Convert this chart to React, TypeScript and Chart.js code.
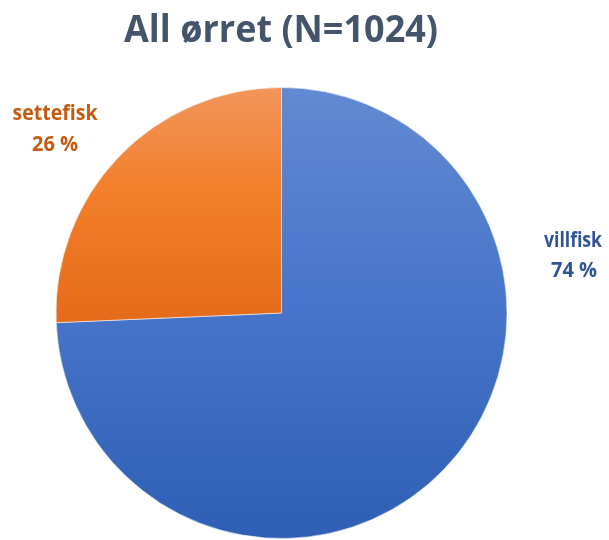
import React, { useEffect, useRef } from "react";
import { Chart, registerables } from "chart.js";

Chart.register(...registerables);

const title = "All ørret (N=1024)";
const categories = ["villfisk", "settefisk"];
const values = [761, 263];
const percentLabels = ["74 %", "26 %"];

const blueStops: [number, string][] = [
  [0, "#628ad3"],
  [0.5, "#4674c9"],
  [1, "#2e5fb4"],
];
const orangeStops: [number, string][] = [
  [0, "#f2955c"],
  [0.22, "#f2802c"],
  [0.5, "#e56c1b"],
  [1, "#d35f12"],
];
const labelColors = ["#2f5597", "#c55a11"];

export default function App() {
  const ref = useRef<HTMLCanvasElement | null>(null);

  useEffect(() => {
    const canvas = ref.current;
    if (!canvas) return;

    const grad = (chart: any, stops: [number, string][]) => {
      const area = chart.chartArea;
      if (!area) return stops[1][1];
      const g = chart.ctx.createLinearGradient(0, area.top, 0, area.bottom);
      stops.forEach(([o, c]) => g.addColorStop(o, c));
      return g;
    };

    const textPlugin = {
      id: "texts",
      afterDraw(chart: any) {
        const c = chart.ctx as CanvasRenderingContext2D;
        c.save();
        c.textAlign = "center";
        c.textBaseline = "alphabetic";
        c.fillStyle = "#44546a";
        c.font = "bold 38px 'Open Sans'";
        c.fillText(title, 281, 42, 314);

        c.font = "bold 22px 'Open Sans'";
        // villfisk (right)
        c.fillStyle = labelColors[0];
        c.fillText(categories[0], 573, 247, 58);
        c.fillText(percentLabels[0], 574, 277, 46);
        // settefisk (left)
        c.fillStyle = labelColors[1];
        c.fillText(categories[1], 55, 120, 85);
        c.fillText(percentLabels[1], 55, 151, 46);
        c.restore();
      },
    };

    const chart = new Chart(canvas, {
      type: "pie",
      data: {
        labels: categories,
        datasets: [
          {
            data: values,
            backgroundColor: (ctx: any) =>
              grad(ctx.chart, ctx.dataIndex === 0 ? blueStops : orangeStops),
            borderColor: "rgba(255,255,255,0.55)",
            borderWidth: 1,
          },
        ],
      },
      options: {
        responsive: false,
        animation: false,
        layout: { padding: { left: 55.5, right: 101.5, top: 87, bottom: 21 } },
        plugins: {
          legend: { display: false },
          title: { display: false },
          tooltip: { enabled: false },
        },
      },
      plugins: [textPlugin],
    });
    return () => chart.destroy();
  }, []);

  return (
    <div
      style={{
        position: "fixed",
        left: 0,
        top: 0,
        width: 609,
        height: 540,
        overflow: "hidden",
        background: "#ffffff",
      }}
    >
      <canvas ref={ref} width={609} height={560} style={{ width: 609, height: 560, display: "block" }} />
    </div>
  );
}
